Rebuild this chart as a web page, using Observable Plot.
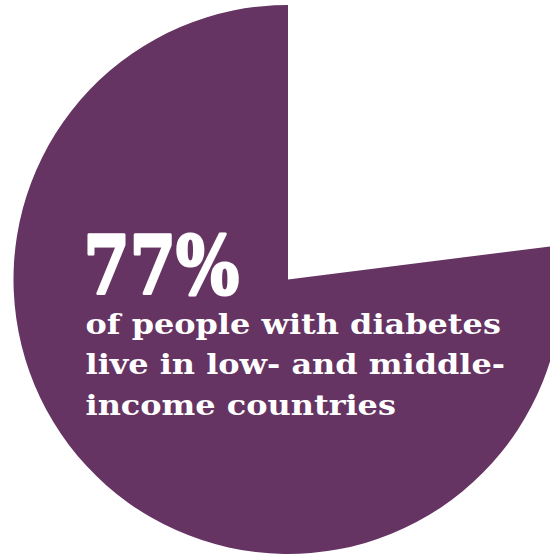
<!DOCTYPE html>
<html><head><meta charset="utf-8">
<script src="https://cdn.jsdelivr.net/npm/d3@7"></script>
<script src="https://cdn.jsdelivr.net/npm/@observablehq/plot@0.6"></script>
<style>html,body{margin:0;padding:0;background:#fff;} svg{display:block;}</style>
</head><body><div id="chart"></div>
<script>
// Data (slice order clockwise from 12 o'clock)
const categories = ["High-income countries", "Low- and middle-income countries"];
const shares = [23, 77];
const sliceColors = ["#ffffff", "#663463"];
const headline = ["77%"];
const captionLines = ["of people with diabetes", "live in low- and middle-", "income countries"];

// Layout
const W = 550, H = 555;
const cx = 288, cy = 279.5, R = 274.5;

const slices = categories.map((c, i) => ({category: c, share: shares[i], color: sliceColors[i]}));
const headRows = headline.map(t => ({text: t, x: -205, y: 13.5}));
const capRows = captionLines.map((t, i) => ({text: t, x: -203, y: 53.5 + i * 40.5}));

function pieMark(data) {
  return (index, scales, values, dimensions, context) => {
    const arcs = d3.pie().sort(null).value(d => d.share)(data);
    const arc = d3.arc().innerRadius(0).outerRadius(R);
    const g = d3.create("svg:g")
      .attr("transform", `translate(${scales.x(0)},${scales.y(0)})`);
    g.selectAll("path").data(arcs).join("path")
      .attr("d", arc)
      .attr("fill", d => d.data.color);
    return g.node();
  };
}

const chart = Plot.plot({
  width: W, height: H,
  margin: 0,
  x: {domain: [-cx, W - cx], range: [0, W], axis: null},
  y: {domain: [-cy, H - cy], range: [0, H], axis: null},
  style: {background: "#fff"},
  marks: [
    pieMark(slices),
    Plot.text(headRows, {x: "x", y: "y", text: "text", textAnchor: "start", lineAnchor: "bottom",
      fill: "#fff", stroke: "#fff", strokeWidth: 3, fontFamily: "DejaVu Serif", fontWeight: "bold",
      fontSize: 81, className: "headline"}),
    Plot.text(capRows, {x: "x", y: "y", text: "text", textAnchor: "start", lineAnchor: "bottom",
      fill: "#fff", fontFamily: "DejaVu Serif", fontWeight: "bold", fontSize: 28, className: "caption"})
  ]
});
document.getElementById("chart").appendChild(chart);

// horizontal glyph adjustment to match the reference's typeface proportions
d3.select(chart).selectAll(".headline text").each(function() {
  const w = this.getComputedTextLength();
  d3.select(this).attr("textLength", w * 0.82).attr("lengthAdjust", "spacingAndGlyphs");
});
d3.select(chart).selectAll(".caption text").each(function() {
  const w = this.getComputedTextLength();
  d3.select(this).attr("textLength", w * 1.14).attr("lengthAdjust", "spacingAndGlyphs");
});
</script>
</body></html>
